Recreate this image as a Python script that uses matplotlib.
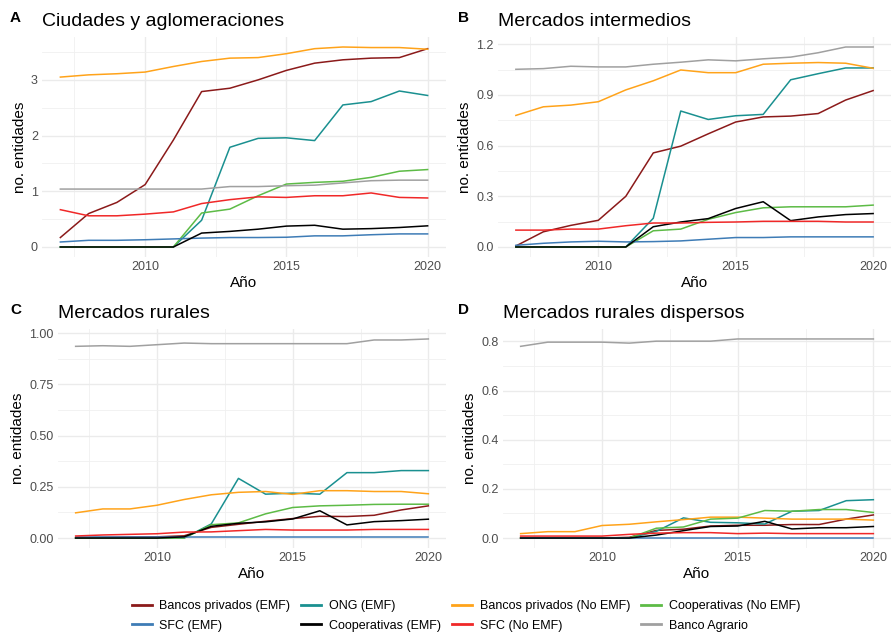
import matplotlib
matplotlib.use("Agg")
import matplotlib.pyplot as plt
from matplotlib.ticker import MultipleLocator, FormatStrFormatter
from matplotlib.lines import Line2D

years = list(range(2007, 2021))

series_names = ["Bancos privados (EMF)", "ONG (EMF)", "Bancos privados (No EMF)",
                "Cooperativas (No EMF)", "SFC (EMF)", "Cooperativas (EMF)",
                "SFC (No EMF)", "Banco Agrario"]
series_colors = ["#8B1A1A", "#1A9090", "#FFA31A", "#5DBB46",
                 "#3E7CB6", "#000000", "#F02828", "#A0A0A0"]

# Panel A: Ciudades y aglomeraciones
a_bp_emf = [0.17, 0.60, 0.80, 1.12, 1.92, 2.79, 2.85, 3.00, 3.17, 3.30, 3.36, 3.39, 3.40, 3.56]
a_ong = [0, 0, 0, 0, 0, 0.48, 1.79, 1.95, 1.96, 1.91, 2.55, 2.61, 2.80, 2.72]
a_bp_noemf = [3.05, 3.09, 3.11, 3.14, 3.24, 3.33, 3.39, 3.40, 3.47, 3.56, 3.59, 3.58, 3.58, 3.55]
a_coop_noemf = [0, 0, 0, 0, 0, 0.61, 0.68, 0.92, 1.13, 1.16, 1.18, 1.25, 1.36, 1.39]
a_sfc_emf = [0.09, 0.12, 0.12, 0.13, 0.145, 0.16, 0.17, 0.17, 0.175, 0.20, 0.20, 0.22, 0.235, 0.235]
a_coop_emf = [0, 0, 0, 0, 0, 0.25, 0.28, 0.32, 0.375, 0.39, 0.32, 0.33, 0.35, 0.38]
a_sfc_noemf = [0.67, 0.56, 0.56, 0.59, 0.63, 0.78, 0.85, 0.90, 0.89, 0.92, 0.92, 0.97, 0.89, 0.88]
a_agrario = [1.04, 1.04, 1.04, 1.04, 1.04, 1.04, 1.085, 1.085, 1.10, 1.11, 1.15, 1.19, 1.20, 1.20]

# Panel B: Mercados intermedios
b_bp_emf = [0.006, 0.09, 0.128, 0.158, 0.30, 0.557, 0.597, 0.67, 0.74, 0.77, 0.775, 0.79, 0.87, 0.926]
b_ong = [0, 0, 0, 0, 0, 0.17, 0.805, 0.755, 0.777, 0.785, 0.99, 1.026, 1.06, 1.06]
b_bp_noemf = [0.779, 0.83, 0.84, 0.86, 0.93, 0.984, 1.048, 1.032, 1.032, 1.082, 1.088, 1.092, 1.088, 1.058]
b_coop_noemf = [0, 0, 0, 0, 0, 0.096, 0.106, 0.164, 0.204, 0.232, 0.238, 0.238, 0.238, 0.248]
b_sfc_emf = [0.01, 0.022, 0.03, 0.034, 0.03, 0.032, 0.036, 0.046, 0.056, 0.056, 0.06, 0.06, 0.06, 0.06]
b_coop_emf = [0, 0, 0, 0, 0, 0.12, 0.148, 0.168, 0.228, 0.268, 0.156, 0.178, 0.192, 0.198]
b_sfc_noemf = [0.10, 0.10, 0.106, 0.106, 0.126, 0.142, 0.142, 0.146, 0.148, 0.152, 0.152, 0.152, 0.148, 0.148]
b_agrario = [1.052, 1.056, 1.07, 1.066, 1.066, 1.082, 1.094, 1.108, 1.102, 1.114, 1.124, 1.15, 1.184, 1.184]

# Panel C: Mercados rurales
c_bp_emf = [0, 0.003, 0.005, 0.006, 0.011, 0.052, 0.067, 0.082, 0.095, 0.106, 0.105, 0.111, 0.137, 0.157]
c_ong = [0, 0, 0, 0, 0, 0.069, 0.291, 0.214, 0.219, 0.214, 0.319, 0.319, 0.329, 0.329]
c_bp_noemf = [0.123, 0.142, 0.142, 0.16, 0.188, 0.211, 0.223, 0.227, 0.213, 0.231, 0.231, 0.227, 0.227, 0.216]
c_coop_noemf = [0, 0, 0, 0, 0, 0.065, 0.074, 0.118, 0.149, 0.157, 0.16, 0.164, 0.165, 0.165]
c_sfc_emf = [0.005, 0.005, 0.005, 0.005, 0.005, 0.005, 0.005, 0.005, 0.005, 0.005, 0.005, 0.005, 0.005, 0.005]
c_coop_emf = [0, 0, 0, 0, 0.006, 0.057, 0.072, 0.079, 0.093, 0.133, 0.064, 0.08, 0.085, 0.092]
c_sfc_noemf = [0.01, 0.015, 0.018, 0.021, 0.029, 0.03, 0.036, 0.042, 0.039, 0.039, 0.039, 0.042, 0.042, 0.042]
c_agrario = [0.935, 0.938, 0.935, 0.943, 0.951, 0.948, 0.948, 0.948, 0.948, 0.948, 0.948, 0.966, 0.966, 0.971]

# Panel D: Mercados rurales dispersos
d_bp_emf = [0, 0, 0, 0, 0.003, 0.031, 0.036, 0.049, 0.052, 0.052, 0.055, 0.055, 0.077, 0.094]
d_ong = [0, 0, 0, 0, 0, 0.027, 0.082, 0.064, 0.062, 0.057, 0.109, 0.112, 0.152, 0.156]
d_bp_noemf = [0.018, 0.026, 0.026, 0.051, 0.056, 0.066, 0.075, 0.085, 0.085, 0.081, 0.077, 0.077, 0.077, 0.073]
d_coop_noemf = [0, 0, 0, 0, 0, 0.04, 0.045, 0.077, 0.081, 0.112, 0.109, 0.116, 0.116, 0.104]
d_sfc_emf = [0.001, 0.001, 0.001, 0.001, 0.001, 0.001, 0.001, 0.001, 0.001, 0.001, 0.001, 0.001, 0.001, 0.001]
d_coop_emf = [0, 0, 0, 0, 0, 0.012, 0.03, 0.047, 0.049, 0.068, 0.037, 0.042, 0.042, 0.047]
d_sfc_noemf = [0.008, 0.008, 0.008, 0.008, 0.015, 0.02, 0.022, 0.022, 0.018, 0.02, 0.018, 0.018, 0.018, 0.018]
d_agrario = [0.78, 0.797, 0.797, 0.797, 0.793, 0.801, 0.801, 0.801, 0.81, 0.81, 0.81, 0.81, 0.81, 0.81]

panel_titles = ["Ciudades y aglomeraciones", "Mercados intermedios",
                "Mercados rurales", "Mercados rurales dispersos"]
panel_tags = ["A", "B", "C", "D"]
panel_data = [
    [a_bp_emf, a_ong, a_bp_noemf, a_coop_noemf, a_sfc_emf, a_coop_emf, a_sfc_noemf, a_agrario],
    [b_bp_emf, b_ong, b_bp_noemf, b_coop_noemf, b_sfc_emf, b_coop_emf, b_sfc_noemf, b_agrario],
    [c_bp_emf, c_ong, c_bp_noemf, c_coop_noemf, c_sfc_emf, c_coop_emf, c_sfc_noemf, c_agrario],
    [d_bp_emf, d_ong, d_bp_noemf, d_coop_noemf, d_sfc_emf, d_coop_emf, d_sfc_noemf, d_agrario],
]
y_major = [1, 0.3, 0.25, 0.2]
y_fmt = ["%d", "%.1f", "%.2f", "%.1f"]

# plot-area boxes in pixels (left, top, right, bottom)
W, H = 895, 632
boxes = [(42, 37, 446, 257), (498, 37, 891, 257), (58, 329, 446, 548), (503, 329, 891, 548)]
tag_pos = [(10, 18), (458, 18), (10, 310), (458, 310)]

plt.rcParams['font.family'] = ['Liberation Sans', 'DejaVu Sans']
fig = plt.figure(figsize=(W / 100, H / 100), dpi=100)

for i in range(4):
    l, t, r, b = boxes[i]
    ax = fig.add_axes([l / W, 1 - b / H, (r - l) / W, (b - t) / H])
    ax.set_facecolor("white")
    for name, col, vals in zip(series_names, series_colors, panel_data[i]):
        ax.plot(years, vals, color=col, lw=1.1, label=name)
    ax.set_xlim(2006.35, 2020.65)
    ax.margins(y=0.05)
    ax.xaxis.set_major_locator(MultipleLocator(5))
    ax.xaxis.set_minor_locator(MultipleLocator(2.5))
    ax.yaxis.set_major_locator(MultipleLocator(y_major[i]))
    ax.yaxis.set_minor_locator(MultipleLocator(y_major[i] / 2))
    ax.yaxis.set_major_formatter(FormatStrFormatter(y_fmt[i]))
    ax.grid(which="major", color="#EBEBEB", lw=1.0)
    ax.grid(which="minor", color="#F0F0F0", lw=0.6)
    ax.set_axisbelow(True)
    for s in ax.spines.values():
        s.set_visible(False)
    ax.tick_params(which="both", length=0, labelsize=9, labelcolor="#4D4D4D", pad=3)
    ax.set_xlabel("Año", fontsize=11, labelpad=2)
    ax.set_ylabel("no. entidades", fontsize=11, labelpad=3)
    ax.set_title(panel_titles[i], loc="left", fontsize=14, pad=8, x=0.0)
    fig.text(tag_pos[i][0] / W, 1 - tag_pos[i][1] / H, panel_tags[i],
             fontsize=11, fontweight="bold", va="center", ha="left")

# legend ordered to fill rows as in reference
order = [0, 4, 1, 5, 2, 6, 3, 7]
handles = [Line2D([0], [0], color=series_colors[k], lw=2) for k in order]
labels = [series_names[k] for k in order]
fig.legend(handles, labels, ncol=4, loc="center", bbox_to_anchor=(466 / W, 1 - 616 / H),
           frameon=False, fontsize=9, handlelength=1.6, columnspacing=0.9,
           handletextpad=0.6, labelspacing=0.6)

fig.savefig("out.png", dpi=100, facecolor="white")
